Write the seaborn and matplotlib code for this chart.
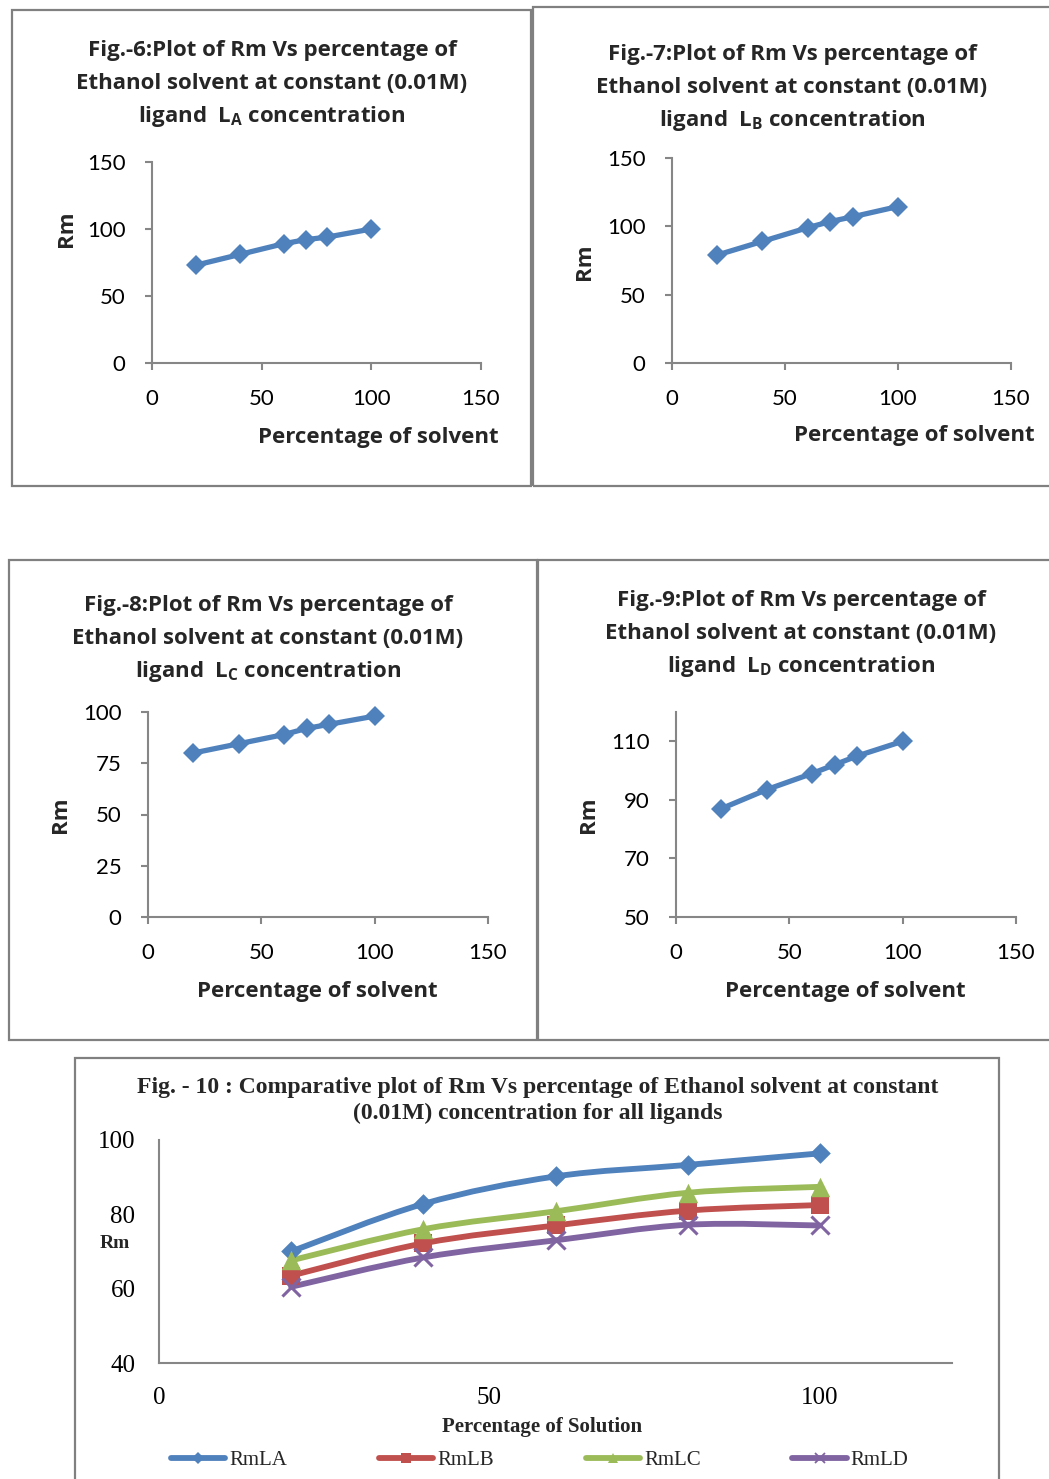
import numpy as np
import pandas as pd
import matplotlib
matplotlib.use("Agg")
import matplotlib.pyplot as plt
import seaborn as sns
from matplotlib.path import Path
from matplotlib.patches import PathPatch, Rectangle
from matplotlib.lines import Line2D

# ---- data -------------------------------------------------------------
solvent_pct = [20, 40, 60, 70, 80, 100]
rm_la = [73, 81, 89, 92, 94, 100]
rm_lb = [79, 89, 99, 103.5, 107, 114.5]
rm_lc = [80, 84.5, 89, 92, 94, 98]
rm_ld = [87, 93.5, 99, 102, 105, 110]

solution_pct = [20, 40, 60, 80, 100]
cmp_la = [70, 82.8, 90.2, 93.3, 96.4]
cmp_lb = [63.5, 72.2, 77, 81, 82.5]
cmp_lc = [67.6, 76, 80.8, 85.8, 87.4]
cmp_ld = [60.5, 68.4, 73, 77.2, 77]
series_names = ["RmLA", "RmLB", "RmLC", "RmLD"]

# ---- style ------------------------------------------------------------
sns.set_theme(style="ticks")
plt.rcParams["font.family"] = ["Lato", "DejaVu Sans"]
plt.rcParams["mathtext.fontset"] = "custom"
plt.rcParams["mathtext.rm"] = "Open Sans"
plt.rcParams["mathtext.bf"] = "Open Sans:bold"
plt.rcParams["mathtext.it"] = "Open Sans:italic"

BLUE, RED, GREEN, PURPLE = "#4F81BD", "#C0504D", "#9BBB59", "#8064A2"
AXIS_GREY = "#868686"
BOX_GREY = "#808080"
SANS_B = ["Open Sans", "DejaVu Sans"]
SERIF = ["Liberation Serif", "DejaVu Serif"]

W, H = 1049, 1479
fig = plt.figure(figsize=(W / 100, H / 100), dpi=100)


def add_ax(x0, y0, x1, y1):
    return fig.add_axes([x0 / W, 1 - y1 / H, (x1 - x0) / W, (y1 - y0) / H])


def box(x0, y0, x1, y1):
    fig.add_artist(Rectangle((x0 / W, 1 - y1 / H), (x1 - x0) / W, (y1 - y0) / H,
                             transform=fig.transFigure, fill=False,
                             edgecolor=BOX_GREY, lw=1.6))


def ftext(x, y, s, **kw):
    fig.text(x / W, 1 - y / H, s, **kw)


# ---- four single-ligand panels -----------------------------------------
panels = [
    dict(values=rm_la, sub="A", num=6, box=(12, 10, 531, 486),
         ax=(152, 162, 481, 363), ylim=(0, 150), yticks=[0, 50, 100, 150],
         tx=272, tb=(56, 89, 122), ylab=(66, 229), xlab=(378, 438)),
    dict(values=rm_lb, sub="B", num=7, box=(533, 7, 1056, 486),
         ax=(672, 158, 1011, 363), ylim=(0, 150), yticks=[0, 50, 100, 150],
         tx=792, tb=(60, 93, 126), ylab=(584, 262), xlab=(914, 436)),
    dict(values=rm_lc, sub="C", num=8, box=(9, 560, 537, 1040),
         ax=(148, 712, 488, 917), ylim=(0, 100), yticks=[0, 25, 50, 75, 100],
         tx=268, tb=(611, 644, 677), ylab=(60, 815), xlab=(317, 992)),
    dict(values=rm_ld, sub="D", num=9, box=(538, 560, 1056, 1040),
         ax=(676, 712, 1016, 917), ylim=(50, 120), yticks=[50, 70, 90, 110],
         tx=801, tb=(606, 639, 672), ylab=(588, 815), xlab=(845, 992)),
]

for p in panels:
    box(*p["box"])
    ax = add_ax(*p["ax"])
    ax.set_facecolor("none")
    sns.lineplot(x=solvent_pct, y=p["values"], ax=ax, color=BLUE, linewidth=3.8,
                 marker="D", markersize=10, markeredgewidth=0, clip_on=False)
    ax.set_xlim(0, 150)
    ax.set_ylim(*p["ylim"])
    ax.set_xticks([0, 50, 100, 150])
    ax.set_yticks(p["yticks"])
    sns.despine(ax=ax)
    for side in ("left", "bottom"):
        ax.spines[side].set_color(AXIS_GREY)
        ax.spines[side].set_linewidth(1.5)
    ax.tick_params(axis="both", direction="out", length=5, width=1.5,
                   color=AXIS_GREY, labelsize=16, pad=14, labelcolor="black")
    ax.set_xlabel("")
    ax.set_ylabel("")

    lines = [f"Fig.-{p['num']}:Plot of Rm Vs percentage of",
             "Ethanol solvent at constant (0.01M)",
             r"ligand  $\mathbf{L_" + p["sub"] + r"}$ concentration"]
    for line, base in zip(lines, p["tb"]):
        ftext(p["tx"], base, line, ha="center", va="baseline",
              fontsize=16, fontweight="bold", family=SANS_B)
    ftext(p["ylab"][0], p["ylab"][1], "Rm", rotation=90, ha="center", va="center",
          fontsize=16, fontweight="bold", family=SANS_B)
    ftext(p["xlab"][0], p["xlab"][1], "Percentage of solvent", ha="center",
          va="center", fontsize=16, fontweight="bold", family=SANS_B)

# ---- comparative panel -------------------------------------------------
box(75, 1058, 999, 1490)
ax = add_ax(159, 1140, 952, 1363)
ax.set_facecolor("none")


def smooth_path(xs, ys):
    pts = np.column_stack([xs, ys]).astype(float)
    n = len(pts)
    verts, codes = [pts[0]], [Path.MOVETO]
    for i in range(n - 1):
        p0, p1 = pts[max(i - 1, 0)], pts[i]
        p2, p3 = pts[i + 1], pts[min(i + 2, n - 1)]
        verts += [p1 + (p2 - p0) / 6, p2 - (p3 - p1) / 6, p2]
        codes += [Path.CURVE4] * 3
    return Path(verts, codes)


cmp_series = [(cmp_la, BLUE, "D", 10.5, 0),
              (cmp_lb, RED, "s", 13, 0),
              (cmp_lc, GREEN, "^", 14, 0),
              (cmp_ld, PURPLE, "x", 13, 2.2)]

handles = []
for (vals, col, mk, ms, mew), name in zip(cmp_series, series_names):
    ax.add_patch(PathPatch(smooth_path(solution_pct, vals), fill=False,
                           edgecolor=col, lw=4.2, capstyle="round",
                           joinstyle="round", zorder=2))
    if mk == "x":
        sns.scatterplot(x=solution_pct, y=vals, ax=ax, marker=mk, s=ms ** 2,
                        color=col, linewidth=mew, zorder=3, clip_on=False)
    else:
        sns.scatterplot(x=solution_pct, y=vals, ax=ax, marker=mk, s=ms ** 2,
                        color=col, edgecolor=col, linewidth=0, zorder=3,
                        clip_on=False)
    handles.append(Line2D([], [], color=col, lw=4.2, marker=mk,
                          markersize=ms * 0.55, markeredgewidth=mew * 0.6 if mew else 0,
                          solid_capstyle="round"))

ax.set_xlim(0, 120)
ax.set_ylim(40, 100)
ax.set_xticks([0, 50, 100])
ax.set_yticks([40, 60, 80, 100])
sns.despine(ax=ax)
for side in ("left", "bottom"):
    ax.spines[side].set_color(AXIS_GREY)
    ax.spines[side].set_linewidth(1.5)
ax.tick_params(axis="both", length=0, labelsize=18, pad=17, labelcolor="black")
for lab in ax.get_xticklabels() + ax.get_yticklabels():
    lab.set_family(SERIF)
ax.set_xlabel("")
ax.set_ylabel("")

ftext(538, 1093, "Fig. - 10 : Comparative plot of Rm Vs percentage of Ethanol solvent at constant",
      ha="center", va="baseline", fontsize=17, fontweight="bold", family=SERIF)
ftext(538, 1119, "(0.01M) concentration for all ligands",
      ha="center", va="baseline", fontsize=17, fontweight="bold", family=SERIF)
ftext(115, 1243, "Rm", ha="center", va="center", fontsize=14,
      fontweight="bold", family=SERIF)
ftext(542, 1427, "Percentage of Solution", ha="center", va="center",
      fontsize=15, fontweight="bold", family=SERIF)

fig.legend(handles, series_names, loc="center", bbox_to_anchor=(540 / W, 1 - 1460 / H),
           ncol=4, frameon=False, prop={"family": SERIF, "size": 15},
           handlelength=2.6, handletextpad=0.2, columnspacing=4.4,
           borderaxespad=0)

fig.savefig("out.png", dpi=100)
